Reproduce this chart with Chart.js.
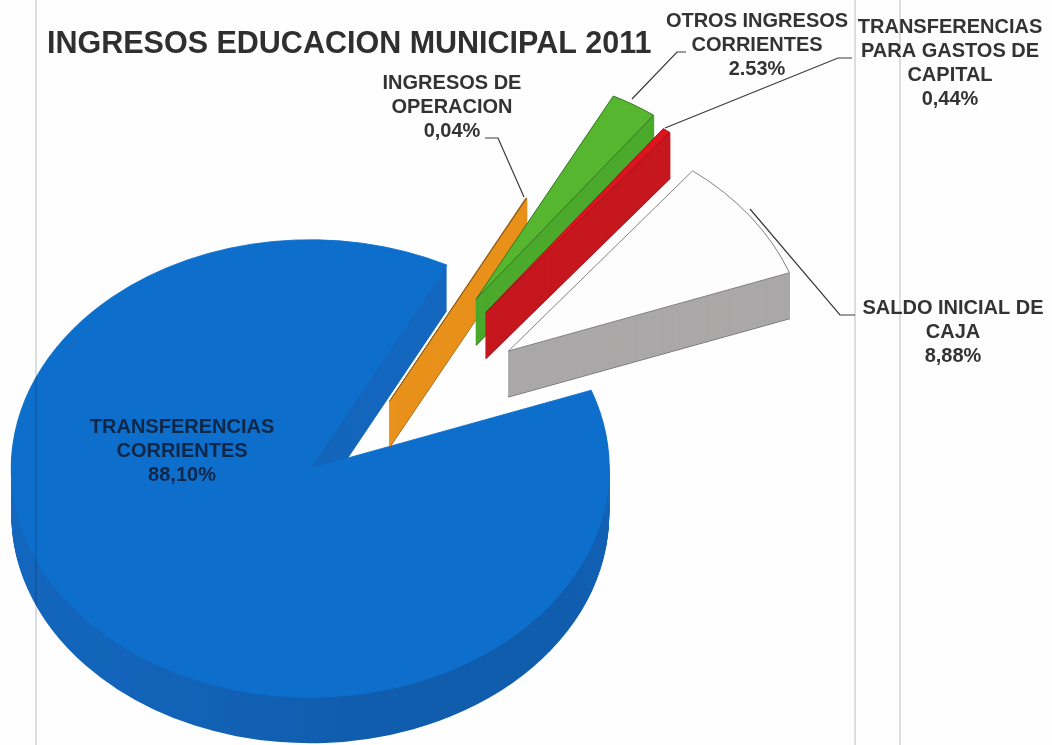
<!DOCTYPE html>
<html lang="es">
<head>
<meta charset="utf-8">
<title>Ingresos Educacion Municipal 2011</title>
<script src="https://cdn.jsdelivr.net/npm/chart.js@4/dist/chart.umd.min.js"></script>
<style>
    html, body { margin: 0; padding: 0; background: #fefefe; }
    canvas { display: block; filter: blur(0.5px); }
</style>
</head>
<body>
<canvas id="pieChart" width="1052" height="745"></canvas>
<script>
// Data
const chartTitle = 'INGRESOS EDUCACION MUNICIPAL 2011';
const categories = ['TRANSFERENCIAS CORRIENTES', 'INGRESOS DE OPERACION', 'OTROS INGRESOS CORRIENTES', 'TRANSFERENCIAS PARA GASTOS DE CAPITAL', 'SALDO INICIAL DE CAJA'];
const values = [88.10, 0.04, 2.53, 0.44, 8.88];
const valueLabels = ['88,10%', '0,04%', '2.53%', '0,44%', '8,88%'];

// Look of the slices
const topColors = ['#0d6fcb', '#e8921c', '#56b62f', '#dc1420', '#fdfdfd'];
const wallColors = [null, '#e8911b', '#4ba92b', '#c6171f', '#aaa8a8'];
const edgeColors = ['#0d6fcb', '#8a5a14', '#2f6f1c', '#a01018', '#777777'];
const explode = [83, 37, 196, 187, 168];
const squash = 0.765;
const depth = 46;

// Label blocks, one per slice: centre x, line centres y
const labelLines = [
    ['TRANSFERENCIAS', 'CORRIENTES'],
    ['INGRESOS DE', 'OPERACION'],
    ['OTROS INGRESOS', 'CORRIENTES'],
    ['TRANSFERENCIAS', 'PARA GASTOS DE', 'CAPITAL'],
    ['SALDO INICIAL DE', 'CAJA']
];
const labelX = [182, 452, 757, 950, 953];
const labelY = [427, 83, 21, 27, 308];
const labelStep = 24;
const labelColors = ['#0f2747', '#333333', '#333333', '#333333', '#333333'];

// Leader lines
const leaders = [
    [[485, 138], [498, 138], [524, 197]],
    [[632, 99], [677, 52], [686, 52]],
    [[665, 128], [838, 58], [852, 58]],
    [[750, 209], [840, 315], [855, 315]]
];

// Faint page rules of the scan
const pageRulesX = [36, 855, 900];

const slice3d = {
    id: 'slice3d',
    beforeDatasetDraw(chart, args) {
        const ctx = chart.ctx;
        const cy = (chart.chartArea.top + chart.chartArea.bottom) / 2;

        // wall shade of the big slice goes darker to the lower right
        const blueWall = ctx.createLinearGradient(0, 300, 500, 1050);
        blueWall.addColorStop(0, '#1569c3');
        blueWall.addColorStop(0.5, '#1263b8');
        blueWall.addColorStop(0.8, '#0e57a5');
        blueWall.addColorStop(1, '#0b4d95');

        ctx.save();
        ctx.translate(0, cy);
        ctx.scale(1, squash);
        ctx.translate(0, -cy);

        args.meta.data.forEach((arc, i) => {
            const mid = (arc.startAngle + arc.endAngle) / 2;
            const plain = {...arc.options, offset: 0};

            ctx.save();
            ctx.translate(Math.cos(mid) * explode[i], Math.sin(mid) * explode[i]);

            // thin slices need a stroke or their wall fades out near the tip
            const wall = Object.create(arc);
            const wallOptions = wallColors[i]
                ? {...plain, backgroundColor: wallColors[i], borderColor: wallColors[i], borderWidth: 1.5}
                : {...plain, backgroundColor: blueWall, borderWidth: 0};
            for (let d = depth; d > 0; d--) {
                // deepest copy keeps the dark outline along the bottom
                wall.options = (d === depth && wallColors[i]) ? {...wallOptions, borderColor: edgeColors[i]} : wallOptions;
                ctx.save();
                ctx.translate(0, d / squash);
                wall.draw(ctx);
                ctx.restore();
            }

            const face = Object.create(arc);
            face.options = plain;
            face.draw(ctx);
            ctx.restore();
        });

        ctx.restore();
        return false;
    },
    afterDraw(chart) {
        const ctx = chart.ctx;
        ctx.save();

        // leader lines
        ctx.strokeStyle = '#3a3a3a';
        ctx.lineWidth = 1.2;
        leaders.forEach(points => {
            ctx.beginPath();
            points.forEach((p, i) => i ? ctx.lineTo(p[0], p[1]) : ctx.moveTo(p[0], p[1]));
            ctx.stroke();
        });

        // labels
        ctx.font = 'bold 20px "Liberation Sans"';
        ctx.textAlign = 'center';
        ctx.textBaseline = 'middle';
        labelLines.forEach((lines, i) => {
            ctx.fillStyle = labelColors[i];
            lines.concat(valueLabels[i]).forEach((text, n) => {
                ctx.fillText(text, labelX[i], labelY[i] + n * labelStep);
            });
        });

        // page rules show through everything
        ctx.globalCompositeOperation = 'multiply';
        ctx.strokeStyle = '#d2d2d2';
        ctx.lineWidth = 1.5;
        pageRulesX.forEach(x => {
            ctx.beginPath();
            ctx.moveTo(x, 0);
            ctx.lineTo(x, chart.height);
            ctx.stroke();
        });
        ctx.restore();
    }
};

new Chart(document.getElementById('pieChart').getContext('2d'), {
    type: 'pie',
    data: {
        labels: categories,
        datasets: [{
            data: values,
            backgroundColor: topColors,
            borderColor: edgeColors,
            borderWidth: 1,
            radius: 299,
            clip: false
        }]
    },
    options: {
        responsive: false,
        animation: false,
        events: [],
        rotation: 70,
        layout: { padding: { left: 47, right: 354, top: 0, bottom: 0 } },
        plugins: {
            legend: { display: false },
            tooltip: { enabled: false },
            title: {
                display: true,
                text: chartTitle,
                align: 'start',
                color: '#2f2f2f',
                font: { family: '"Liberation Sans"', size: 30.5, weight: 'bold' },
                padding: { top: 26, bottom: 45.4 }
            }
        }
    },
    plugins: [slice3d]
});
</script>
</body>
</html>
